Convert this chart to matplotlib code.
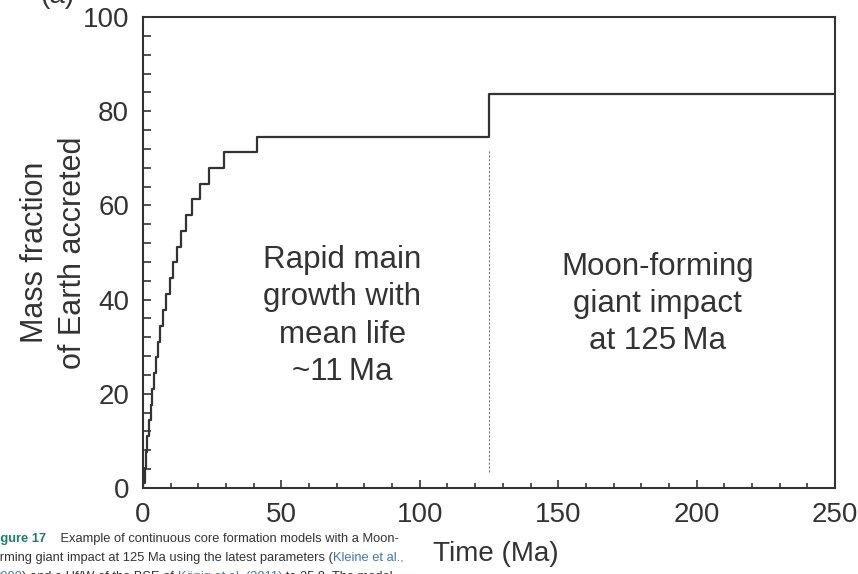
from matplotlib import pyplot as plt
from matplotlib.ticker import MultipleLocator
import numpy as np

# step curve: time (Ma) of each jump and the level reached
step_times = np.array([0, 0.15, 0.6, 1.1, 1.6, 2.2, 2.8, 3.4, 4.0, 4.6, 5.4, 6.3,
                       7.3, 8.4, 9.7, 10.9, 12.2, 13.6, 15.5, 17.6, 20.6, 24.0,
                       29.4, 41.0, 125.0, 250.0])
mass_accreted = np.array([0, 1.0, 4.3, 7.7, 11.0, 14.4, 17.7, 21.1, 24.4, 27.8,
                          31.1, 34.5, 37.8, 41.2, 44.5, 47.9, 51.2, 54.6, 57.9,
                          61.3, 64.6, 68.0, 71.3, 74.6, 83.6, 83.6])
impact_time = 125
impact_line = [3.5, 72]

plt.rcParams['font.family'] = ['Liberation Sans', 'DejaVu Sans']
ink = '#333333'

fig = plt.figure(figsize=(8.58, 5.74), dpi=100)
ax = fig.add_axes([0.1667, 0.1498, 0.8065, 0.8206])

ax.plot(step_times, mass_accreted, drawstyle='steps-post', color=ink, lw=1.6)
ax.plot([impact_time, impact_time], impact_line, color='#777777', lw=0.8,
        linestyle=(0, (2, 1.5)))

ax.set_xlim(0, 250)
ax.set_ylim(0, 100)
ax.xaxis.set_major_locator(MultipleLocator(50))
ax.xaxis.set_minor_locator(MultipleLocator(10))
ax.yaxis.set_major_locator(MultipleLocator(20))
ax.yaxis.set_minor_locator(MultipleLocator(4))
ax.tick_params(which='both', direction='in', colors=ink, labelsize=20, width=1.2)
ax.tick_params(axis='x', which='major', length=5.5, pad=10)
ax.tick_params(axis='x', which='minor', length=3.5)
ax.tick_params(axis='y', which='both', length=5.5, pad=10)
for s in ax.spines.values():
    s.set_linewidth(1.5)
    s.set_color(ink)

ax.set_xlabel('Time (Ma)', fontsize=20, color=ink)
ax.xaxis.set_label_coords(0.51, -0.113)
ax.set_ylabel('Mass fraction\nof Earth accreted', fontsize=22, color=ink,
              labelpad=-4, linespacing=1.35)

ax.text(72, 36.5, 'Rapid main\ngrowth with\nmean life\n~11\u2009Ma', fontsize=22.5,
        color=ink, ha='center', va='center', linespacing=1.32)
ax.text(186, 39, 'Moon-forming\ngiant impact\nat 125\u2009Ma', fontsize=22.5,
        color=ink, ha='center', va='center', linespacing=1.3)

fig.text(0.047, 1 - 3 / 574, '(a)', fontsize=20, color=ink, va='baseline')

# bits of the figure caption that show in the screenshot
cap = dict(fontsize=9.3)
teal = '#1f7a6d'
blue = '#3b78b5'


def caption_line(x, y, parts):
    prev = ax.annotate(parts[0][0], xy=(x, y), xycoords='figure pixels',
                       va='bottom', color=parts[0][1], annotation_clip=False,
                       fontweight=parts[0][2], **cap)
    for s, c, w in parts[1:]:
        prev = ax.annotate(s, xy=(1, 0), xycoords=prev, va='bottom', color=c,
                           fontweight=w, annotation_clip=False, **cap)


caption_line(-11, 574 - 545, [('Figure 17', teal, 'bold'),
                              ('    Example of continuous core formation models with a Moon-',
                               ink, 'normal')])
caption_line(-11, 574 - 564, [('forming giant impact at 125 Ma using the latest parameters (',
                               ink, 'normal'),
                              ('Kleine et al.,', blue, 'normal')])
caption_line(-7, 574 - 583, [('2009', blue, 'normal'),
                             (') and a Hf/W of the BSE of ', ink, 'normal'),
                             ('K\u00f6nig et al. (2011)', blue, 'normal'),
                             (' to 25.8. The model', ink, 'normal')])

fig.savefig('out.png', dpi=100)
